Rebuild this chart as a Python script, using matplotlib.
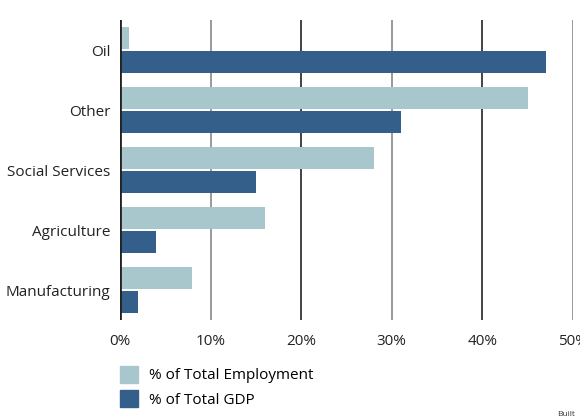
import numpy as np
import matplotlib
matplotlib.use("Agg")
import matplotlib.pyplot as plt
from matplotlib.patches import Patch

# Sector shares (percent)
sectors = ["Oil", "Other", "Social Services", "Agriculture", "Manufacturing"]
employment = [1, 45, 28, 16, 8]
gdp = [47, 31, 15, 4, 2]
x_ticks = [0, 10, 20, 30, 40, 50]
x_labels = ["0%", "10%", "20%", "30%", "40%", "50%"]

LIGHT = "#a7c7cc"
DARK = "#345f8a"

plt.rcParams["font.family"] = ["Open Sans", "DejaVu Sans"]

fig = plt.figure(figsize=(5.8, 4.2), dpi=100)
ax = fig.add_axes([120 / 580, 1 - 320 / 420, 453 / 580, 300 / 420])

y = np.arange(len(sectors))
h = 0.37
ax.barh(y - 0.2, employment, height=h, color=LIGHT, zorder=3)
ax.barh(y + 0.2, gdp, height=h, color=DARK, zorder=3)

ax.set_ylim(len(sectors) - 0.5, -0.5)
ax.set_xlim(0, 50)

# alternating grey / dark vertical gridlines
for i, t in enumerate(x_ticks[1:]):
    col = "#888888" if i % 2 == 0 else "#222222"
    ax.axvline(t, color=col, lw=1.2, zorder=1)
ax.axvline(0, color="#222222", lw=2, zorder=4)

ax.set_yticks(y)
ax.set_yticklabels(sectors, fontsize=11, color="#222222")
ax.set_xticks(x_ticks)
ax.set_xticklabels(x_labels, fontsize=11, color="#222222")
ax.tick_params(axis="y", length=0, pad=7)
ax.tick_params(axis="x", length=0, pad=10)
for s in ax.spines.values():
    s.set_visible(False)

handles = [Patch(color=LIGHT, label="% of Total Employment"),
           Patch(color=DARK, label="% of Total GDP")]
fig.legend(handles=handles, loc="upper left", bbox_to_anchor=(120 / 580, 1 - 366 / 420),
           frameon=False, fontsize=11, handlelength=1.2, handleheight=1.3,
           handletextpad=0.7, labelspacing=0.45, borderaxespad=0, borderpad=0)

fig.text(557 / 580, 6 / 420, "Built", fontsize=6, color="#333333", va="center")

fig.savefig("out.png", dpi=100)
